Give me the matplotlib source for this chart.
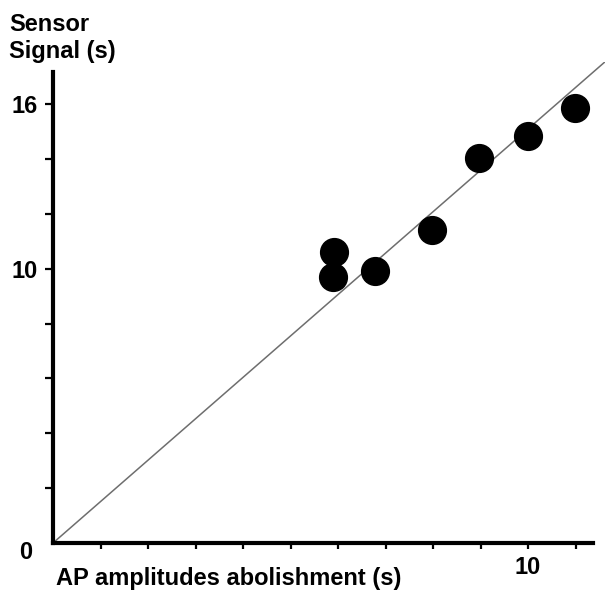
import matplotlib.pyplot as plt

plt.rcParams['font.family'] = ['Liberation Sans', 'DejaVu Sans']

# data
ap_time = [5.92, 5.89, 6.78, 7.98, 8.97, 10.0, 10.99]
sensor_time = [10.61, 9.70, 9.92, 11.41, 14.04, 14.84, 15.86]
fit_x = [0, 11.62]
fit_slope = 1.51

x_ticks = list(range(1, 12))
y_ticks = list(range(2, 17, 2))
y_labels = ['' if v not in (10, 16) else str(v) for v in y_ticks]
x_labels = ['10' if v == 10 else '' for v in x_ticks]

fig = plt.figure(figsize=(6.05, 5.95), dpi=100)
ax = fig.add_axes([53 / 605, 52 / 595, 552 / 605, 481 / 595])

# diagonal line
ax.plot(fit_x, [fit_slope * v for v in fit_x], color='#6e6e6e', lw=1.1, zorder=1)

# points
ax.scatter(ap_time, sensor_time, s=400, color='black', zorder=3, clip_on=False)

ax.set_xlim(0, 11.62)
ax.set_ylim(0, 17.54)

for side in ['top', 'right']:
    ax.spines[side].set_visible(False)
ax.spines['left'].set_bounds(0, 17.17)
ax.spines['bottom'].set_bounds(0, 11.37)
for side in ['left', 'bottom']:
    ax.spines[side].set_linewidth(3)
    ax.spines[side].set_capstyle('projecting')

ax.set_xticks(x_ticks)
ax.set_xticklabels(x_labels)
ax.set_yticks(y_ticks)
ax.set_yticklabels(y_labels)
ax.tick_params(axis='y', direction='out', length=6, width=1.6, pad=5,
               labelsize=17)
ax.tick_params(axis='x', direction='out', length=4.5, width=1.6, pad=5,
               labelsize=17)
for lab in ax.get_xticklabels() + ax.get_yticklabels():
    lab.set_fontweight('bold')

# origin label
ax.annotate('0', xy=(0, 0), xytext=(-20, -7), textcoords='offset points',
            ha='center', va='center', fontsize=17, fontweight='bold')

# axis titles
fig.text(9 / 605, 1 - 13 / 595, 'Sensor\nSignal (s)', ha='left', va='top',
         fontsize=17, fontweight='bold', linespacing=1.2)
fig.text(56 / 605, 1 - 579 / 595, 'AP amplitudes abolishment (s)',
         ha='left', va='center', fontsize=17, fontweight='bold')

fig.savefig('out.png', dpi=100)
